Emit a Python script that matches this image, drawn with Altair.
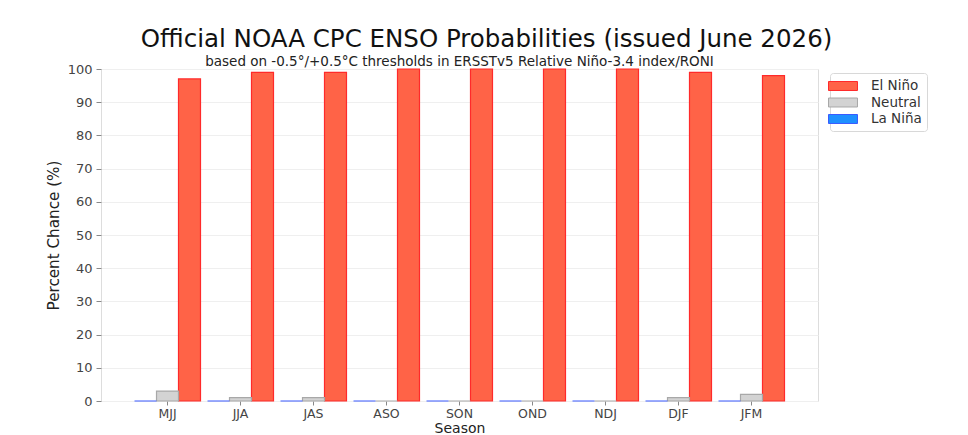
import altair as alt
import pandas as pd

seasons = ["MJJ", "JJA", "JAS", "ASO", "SON", "OND", "NDJ", "DJF", "JFM"]
el_nino = [97, 99, 99, 100, 100, 100, 100, 99, 98]
neutral = [3, 1, 1, 0, 0, 0, 0, 1, 2]
la_nina = [0, 0, 0, 0, 0, 0, 0, 0, 0]
categories = ["El Niño", "Neutral", "La Niña"]
fills = ["#FF6347", "#D3D3D3", "#1E90FF"]
strokes = ["#FF2A2A", "#A8A8A8", "#3A5BFF"]

title_text = "Official NOAA CPC ENSO Probabilities (issued June 2026)"
subtitle_text = "based on -0.5°/+0.5°C thresholds in ERSSTv5 Relative Niño-3.4 index/RONI"

rows = []
for i, s in enumerate(seasons):
    for cat, vals in zip(categories, [el_nino, neutral, la_nina]):
        rows.append({"Season": s, "Category": cat, "Chance": vals[i]})
df = pd.DataFrame(rows)

W, H = 717, 332
FONT = "DejaVu Sans"

bars = alt.Chart(df).mark_bar(strokeWidth=1.2).encode(
    x=alt.X("Season:N", sort=seasons,
            scale=alt.Scale(paddingInner=0.096, paddingOuter=0.459),
            axis=alt.Axis(title="Season", labelAngle=0, labelFontSize=12.5,
                          labelColor="#444", labelFont=FONT, tickSize=4,
                          tickColor="#888", domain=False, labelPadding=2,
                          titleFontSize=14, titleFont=FONT, titleFontWeight="normal",
                          titleColor="#222", titlePadding=2, grid=False)),
    xOffset=alt.XOffset("Category:N", sort=["La Niña", "Neutral", "El Niño"],
                        scale=alt.Scale(paddingInner=0, paddingOuter=0)),
    y=alt.Y("Chance:Q", scale=alt.Scale(domain=[0, 100], nice=False),
            axis=alt.Axis(values=list(range(0, 101, 10)), title="Percent Chance (%)",
                          labelFontSize=13, labelColor="#444", labelFont=FONT,
                          tickSize=5, tickColor="#888", domain=False,
                          labelPadding=4, titleFontSize=15.2, titleFont=FONT,
                          titleFontWeight="normal", titleColor="#222",
                          titlePadding=6, grid=True, gridColor="#efefef")),
    color=alt.Color("Category:N", scale=alt.Scale(domain=categories, range=fills),
                    legend=alt.Legend(title=None, orient="none", legendX=729, legendY=4,
                                      symbolType="M-2,-0.62H2V0.62H-2Z", symbolSize=210,
                                      symbolStrokeWidth=1, labelFontSize=13.5,
                                      labelFont=FONT, labelColor="#333",
                                      padding=5, strokeColor="#d8d8d8",
                                      fillColor="white", cornerRadius=3,
                                      rowPadding=1.5, labelOffset=20)),
    stroke=alt.Stroke("Category:N", scale=alt.Scale(domain=categories, range=strokes),
                      legend=None),
)

sub = alt.Chart(pd.DataFrame({"t": [subtitle_text]})).mark_text(
    fontSize=13.5, font=FONT, baseline="alphabetic", align="center", color="#222"
).encode(x=alt.value(W / 2), y=alt.value(-3), text="t:N")

chart = alt.layer(bars, sub).properties(
    width=W, height=H,
    title=alt.TitleParams(title_text, fontSize=24.5, font=FONT, fontWeight="normal",
                          color="#111", anchor="middle", frame="group", dx=27, offset=3),
    autosize=alt.AutoSizeParams(type="none"),
    padding={"left": 93, "top": 61, "right": 140, "bottom": 34},
).configure_view(stroke="#999", strokeWidth=1.5).configure(background="white")

chart.save("out.html", embed_options={"renderer": "svg", "actions": False})
